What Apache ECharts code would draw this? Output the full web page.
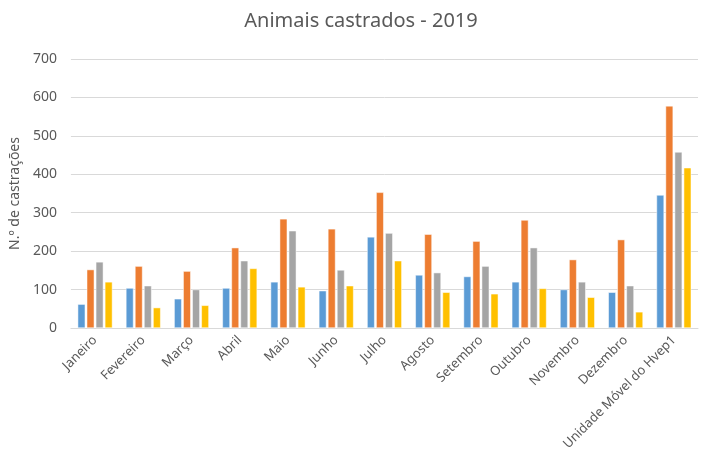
<!DOCTYPE html>
<html>
<head>
<meta charset="utf-8">
<script src="https://cdn.jsdelivr.net/npm/echarts@6/dist/echarts.min.js"></script>
<style>
  html, body { margin: 0; padding: 0; background: #fff; }
  #chart-container { width: 722px; height: 470px; }
</style>
</head>
<body>
<div id="chart-container"></div>
<script>
var categories = ['Janeiro', 'Fevereiro', 'Março', 'Abril', 'Maio', 'Junho', 'Julho',
  'Agosto', 'Setembro', 'Outubro', 'Novembro', 'Dezembro', 'Unidade Móvel do Hvep1'];

var serie1 = [62, 104, 76, 104, 120, 97, 237, 138, 134, 120, 100, 93, 346];
var serie2 = [152, 161, 148, 209, 284, 258, 353, 244, 226, 281, 178, 230, 578];
var serie3 = [172, 110, 100, 175, 253, 151, 247, 144, 161, 209, 120, 110, 458];
var serie4 = [120, 53, 59, 155, 107, 110, 175, 93, 89, 103, 80, 42, 417];

var seriesNames = ['Série 1', 'Série 2', 'Série 3', 'Série 4'];
var colors = ['#5B9BD5', '#ED7D31', '#A5A5A5', '#FFC000'];

var dom = document.getElementById('chart-container');
var myChart = echarts.init(dom, null, { renderer: 'canvas' });

var textFont = 'Noto Sans';

function barSeries(name, data) {
  return {
    name: name,
    type: 'bar',
    data: data,
    barGap: '20%',
    barCategoryGap: '28%',
    itemStyle: { borderColor: '#fff', borderWidth: 0.5 }
  };
}

var option = {
  color: colors,
  animation: false,
  title: {
    text: 'Animais castrados - 2019',
    left: 'center',
    top: 6,
    textStyle: { fontFamily: textFont, fontSize: 20, fontWeight: 'normal', color: '#595959' }
  },
  legend: { show: false },
  grid: { left: 66, right: 24, top: 59, bottom: 142 },
  xAxis: {
    type: 'category',
    data: categories,
    axisTick: { show: false },
    axisLine: { lineStyle: { color: '#D9D9D9' } },
    axisLabel: {
      rotate: 45,
      interval: 0,
      margin: 10,
      fontFamily: textFont,
      fontSize: 13,
      color: '#595959'
    }
  },
  yAxis: {
    type: 'value',
    min: 0,
    max: 700,
    interval: 100,
    name: 'N.º de castrações',
    nameLocation: 'middle',
    nameGap: 44,
    nameTextStyle: { fontFamily: textFont, fontSize: 14, color: '#595959' },
    axisLine: { show: false },
    axisTick: { show: false },
    splitLine: { lineStyle: { color: '#D9D9D9' } },
    axisLabel: { fontFamily: textFont, fontSize: 14, color: '#595959', margin: 14 }
  },
  series: [
    barSeries(seriesNames[0], serie1),
    barSeries(seriesNames[1], serie2),
    barSeries(seriesNames[2], serie3),
    barSeries(seriesNames[3], serie4)
  ]
};

myChart.setOption(option);
window.addEventListener('resize', myChart.resize);
</script>
</body>
</html>
